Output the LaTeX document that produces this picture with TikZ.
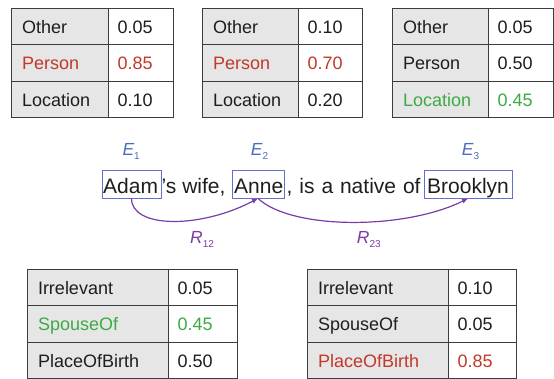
\documentclass[tikz,border=0pt]{standalone}
\usepackage{fontspec}
\setmainfont{Liberation Sans}
\usetikzlibrary{arrows.meta}
\definecolor{txt}{HTML}{1E1E1E}
\definecolor{cellgray}{HTML}{E6E6E6}
\definecolor{rule}{HTML}{3C3C3C}
\definecolor{red}{HTML}{C0392B}
\definecolor{grn}{HTML}{3DAA46}
\definecolor{eblue}{HTML}{4A6CC0}
\definecolor{bblue}{HTML}{6670C8}
\definecolor{purp}{HTML}{7A3CA8}
\begin{document}
\begin{tikzpicture}[x=1pt,y=-1pt,
  cell/.style={draw=rule, line width=1pt, minimum height=36.33pt, anchor=north west,
    font=\fontsize{18}{20}\selectfont, text height=15pt, text depth=1.5pt, align=left},
  lcell/.style={cell, fill=cellgray, inner xsep=10.5pt},
  vcell/.style={cell, fill=white, inner xsep=9pt},
  word/.style={inner sep=0pt, anchor=base west, text=txt, font=\fontsize{21}{24}\selectfont},
  ebox/.style={draw=bblue, line width=0.9pt, inner sep=0pt},
  elab/.style={inner sep=0pt, anchor=base west, text=eblue, font=\fontsize{17.5}{20}\selectfont\itshape},
  rlab/.style={inner sep=0pt, anchor=base west, text=purp, font=\fontsize{17.5}{20}\selectfont\itshape},
  rel/.style={draw=purp, line width=1.2pt, -{Latex[length=6pt,width=5pt]}}
]
\useasboundingbox (0,0) rectangle (554,378);

% #1 name, #2 x0, #3 y0, #4 w1, #5 w2, #6 rows
\newcommand\probtable[6]{%
  \foreach \lab/\val/\col [count=\i] in {#6} {
    \pgfmathsetmacro\yy{#3+(\i-1)*36.33}
    \node[lcell, minimum width=#4pt, text width=#4pt-21pt, text=\col] (#1-\i-1) at (#2,\yy) {\lab};
    \node[vcell, minimum width=#5pt, text width=#5pt-18pt, text=\col] (#1-\i-2) at (#2+#4,\yy) {\val};
  }
}

\probtable{ta}{11}{8}{97}{65}{Other/0.05/txt, Person/0.85/red, Location/0.10/txt}
\probtable{tb}{202}{8}{96}{64}{Other/0.10/txt, Person/0.70/red, Location/0.20/txt}
\probtable{tc}{392}{8}{96}{65}{Other/0.05/txt, Person/0.50/txt, Location/0.45/grn}
\probtable{td}{27}{269}{141}{69}{Irrelevant/0.05/txt, SpouseOf/0.45/grn, PlaceOfBirth/0.50/txt}
\probtable{te}{307}{269}{141}{68}{Irrelevant/0.10/txt, SpouseOf/0.05/txt, PlaceOfBirth/0.85/red}

% sentence
\node[word] (w1) at (103,193.3) {Adam};
\node[word] (w2) at (161.5,193.3) {’s wife,};
\node[word] (w3) at (234,193.3) {Anne};
\node[word] (w4) at (286.5,193.3) {\spaceskip=6.9pt, is a native of};
\node[word] (w5) at (427,193.3) {Brooklyn};

\node[ebox, minimum width=59pt, minimum height=28pt] (b1) at (131.5,184) {};
\node[ebox, minimum width=52pt, minimum height=28pt] (b2) at (258,184) {};
\node[ebox, minimum width=88pt, minimum height=28pt] (b3) at (468,184) {};

\node[elab] (e1) at (122.3,155.5) {E\raisebox{-4pt}{\upshape\fontsize{10}{10}\selectfont 1}};
\node[elab] (e2) at (250.7,155.5) {E\raisebox{-4pt}{\upshape\fontsize{10}{10}\selectfont 2}};
\node[elab] (e3) at (461.7,155.5) {E\raisebox{-4pt}{\upshape\fontsize{10}{10}\selectfont 3}};

\node[rlab] (r12) at (190,243.3) {R\raisebox{-4pt}{\upshape\fontsize{10}{10}\selectfont 12}};
\node[rlab] (r23) at (356.7,243.3) {R\raisebox{-4pt}{\upshape\fontsize{10}{10}\selectfont 23}};

\draw[rel] (b1.south) .. controls +(0,30) and (200,229) .. (b2.south);
\draw[rel] (b2.south) .. controls (292,230) and (405,230) .. (b3.south);
\end{tikzpicture}
\end{document}
